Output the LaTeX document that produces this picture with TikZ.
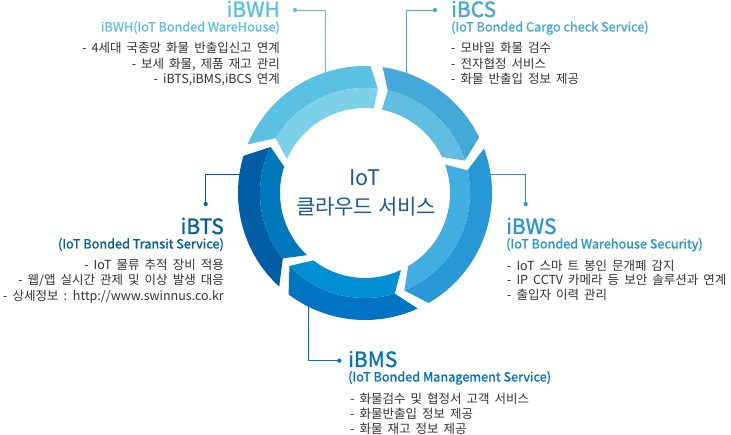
\documentclass[tikz,border=0pt]{standalone}
\usepackage{fontspec}
\setmainfont{Noto Sans CJK KR}
\newfontfamily\headfont[FakeBold=1.2]{Noto Sans CJK KR}
\newfontfamily\bodyfont[WordSpace={1.8,0,0}]{Noto Sans CJK KR}
\definecolor{aOut}{RGB}{91,193,226}
\definecolor{aIn}{RGB}{124,208,234}
\definecolor{bOut}{RGB}{67,169,216}
\definecolor{bIn}{RGB}{98,189,226}
\definecolor{cOut}{RGB}{39,151,214}
\definecolor{cIn}{RGB}{66,173,225}
\definecolor{dOut}{RGB}{0,116,196}
\definecolor{dIn}{RGB}{0,143,210}
\definecolor{eOut}{RGB}{0,94,166}
\definecolor{eIn}{RGB}{0,120,190}
\definecolor{ctrText}{RGB}{26,90,160}
\definecolor{bodyText}{RGB}{51,51,51}
\newcommand{\Ro}{127}
\newcommand{\Rm}{105}
\newcommand{\Ri}{85}
\newcommand{\gp}{5.5}
% #1 tail angle, #2 tail dout, #3 tail din, #4 tip angle, #5 tip dout, #6 tip din, #7 outer colour, #8 inner colour
\newcommand{\ringseg}[8]{%
  \fill[#7] (#1+#2-\gp:\Ro) arc[start angle=#1+#2-\gp, end angle=#4+#5, radius=\Ro]
     -- (#4:\Rm) arc[start angle=#4, end angle=#1-\gp, radius=\Rm] -- cycle;
  \fill[#8] (#1-\gp:\Rm) arc[start angle=#1-\gp, end angle=#4, radius=\Rm]
     -- (#4+#6:\Ri) arc[start angle=#4+#6, end angle=#1+#3-\gp, radius=\Ri] -- cycle;
}
\begin{document}
\begin{tikzpicture}[x=1pt,y=-1pt,
  title/.style={inner sep=0pt, font=\headfont\fontsize{21}{24}\selectfont},
  subtitle/.style={inner sep=0pt, font=\headfont\fontsize{12.7}{15}\selectfont},
  bullet/.style={inner sep=0pt, text=bodyText, font=\bodyfont\fontsize{12.5}{15}\selectfont},
  conn/.style={line width=0.9pt},
  dotmark/.style={radius=2.1}]
\useasboundingbox (0,0) rectangle (731,435);
\fill[white] (0,0) rectangle (731,435);

% connectors (behind ring)
\coordinate (wh-dot) at (295,10);   \coordinate (wh-ring) at (325,74);
\coordinate (cs-dot) at (435,10);   \coordinate (cs-ring) at (406,75);
\coordinate (ts-dot) at (205.7,204); \coordinate (ts-ring) at (242,174.3);
\coordinate (ws-dot) at (525.7,204); \coordinate (ws-ring) at (488,174.3);
\coordinate (ms-dot) at (339.3,360.7); \coordinate (ms-ring) at (308,304);
\draw[conn, aOut] (wh-dot) -| (wh-ring);
\fill[aOut] (wh-dot) circle[dotmark];
\draw[conn, bOut] (cs-dot) -| (cs-ring);
\fill[bOut] (cs-dot) circle[dotmark];
\draw[conn, eOut] (ts-dot) |- (ts-ring);
\fill[eOut] (ts-dot) circle[dotmark];
\draw[conn, cOut] (ws-dot) |- (ws-ring);
\fill[cOut] (ws-dot) circle[dotmark];
\draw[conn, dOut] (ms-dot) -| (ms-ring);
\fill[dOut] (ms-dot) circle[dotmark];

% ring
\begin{scope}[shift={(365,193)}, x=1pt, y=1pt]
  \ringseg{154}{9}{8}{83}{4.5}{1}{aOut}{aIn}
  \ringseg{83}{4.5}{1}{18}{8}{7}{bOut}{bIn}
  \ringseg{18}{8}{7}{-68}{8}{8.5}{cOut}{cIn}
  \ringseg{-68}{8}{8.5}{-136}{9}{8.5}{dOut}{dIn}
  \ringseg{224}{9}{8.5}{154}{9}{8}{eOut}{eIn}
\end{scope}

% centre text
\node[inner sep=0pt, text=ctrText, font=\fontsize{21.5}{24}\selectfont] (iot) at (365,178) {IoT};
\node[inner sep=0pt, text=ctrText, font=\fontsize{21}{24}\selectfont] (cloud) at (366,207) {클라우드 서비스};

% iBWH
\node[title, text=aOut, anchor=base east] (wh-t) at (280,17) {iBWH};
\node[subtitle, text=aOut, anchor=base east] (wh-s) at (280,31.5) {iBWH(IoT Bonded WareHouse)};
\node[bullet, anchor=base east] (wh-1) at (280,53) {- 4세대 국종망 화물 반출입신고 연계};
\node[bullet, anchor=base east] (wh-2) at (280,68.5) {- 보세 화물, 제품 재고 관리};
\node[bullet, anchor=base east] (wh-3) at (280,84) {- iBTS,iBMS,iBCS 연계};

% iBCS
\node[title, text=bOut, anchor=base west] (cs-t) at (451,17) {iBCS};
\node[subtitle, text=bOut, anchor=base west] (cs-s) at (451,31.5) {(IoT Bonded Cargo check Service)};
\node[bullet, anchor=base west] (cs-1) at (451,53) {- 모바일 화물 검수};
\node[bullet, anchor=base west] (cs-2) at (451,68.5) {- 전자협정 서비스};
\node[bullet, anchor=base west] (cs-3) at (451,84) {- 화물 반출입 정보 제공};

% iBTS
\node[title, text=eOut, anchor=base east] (ts-t) at (224,234) {iBTS};
\node[subtitle, text=eOut, anchor=base east] (ts-s) at (224,248.5) {(IoT Bonded Transit Service)};
\node[bullet, anchor=base east] (ts-1) at (224,269.5) {- IoT 물류 추적 장비 적용};
\node[bullet, anchor=base east] (ts-2) at (224,285) {- 웹/앱 실시간 관제 및 이상 발생 대응};
\node[bullet, anchor=base east] (ts-3) at (224,300.5) {- 상세정보 : http://www.swinnus.co.kr};

% iBWS
\node[title, text=cOut, anchor=base west] (ws-t) at (506,234) {iBWS};
\node[subtitle, text=cOut, anchor=base west] (ws-s) at (506,248.5) {(IoT Bonded Warehouse Security)};
\node[bullet, anchor=base west] (ws-1) at (507,270.5) {- IoT 스마 트 봉인 문개폐 감지};
\node[bullet, anchor=base west] (ws-2) at (507,285) {- IP CCTV 카메라 등 보안 솔루션과 연계};
\node[bullet, anchor=base west] (ws-3) at (507,300) {- 출입자 이력 관리};

% iBMS
\node[title, text=dOut, anchor=base west] (ms-t) at (348,367) {iBMS};
\node[subtitle, text=dOut, anchor=base west] (ms-s) at (348,381.5) {(IoT Bonded Management Service)};
\node[bullet, anchor=base west] (ms-1) at (350,403.5) {- 화물검수 및 협정서 고객 서비스};
\node[bullet, anchor=base west] (ms-2) at (350,418) {- 화물반출입 정보 제공};
\node[bullet, anchor=base west] (ms-3) at (350,433) {- 화물 재고 정보 제공};
\end{tikzpicture}
\end{document}
